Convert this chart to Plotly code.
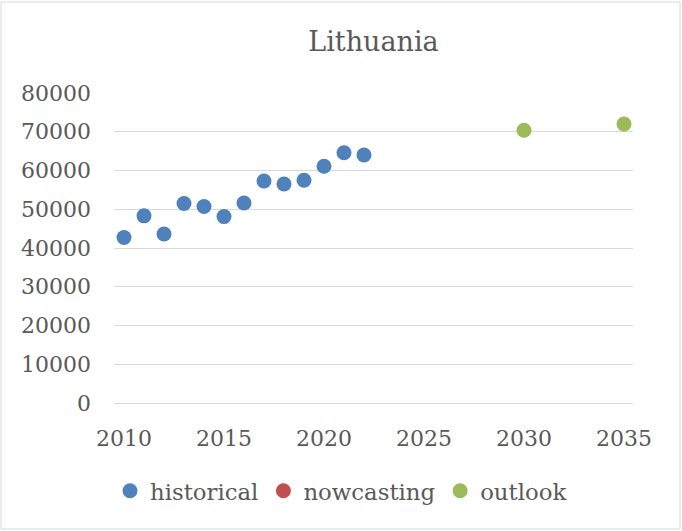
import plotly.graph_objects as go

# Data
hist_years = [2010, 2011, 2012, 2013, 2014, 2015, 2016, 2017, 2018, 2019, 2020, 2021, 2022]
hist_values = [42700, 48300, 43600, 51500, 50700, 48100, 51600, 57300, 56500, 57500, 61100, 64600, 64000]
now_years = []
now_values = []
outlook_years = [2030, 2035]
outlook_values = [70400, 72000]
x_ticks = [2010, 2015, 2020, 2025, 2030, 2035]
y_ticks = [0, 10000, 20000, 30000, 40000, 50000, 60000, 70000, 80000]

FONT = "DejaVu Serif"
TXT = "#595959"

fig = go.Figure()
fig.add_trace(go.Scatter(x=hist_years, y=hist_values, mode="markers", name="historical",
                         marker=dict(color="#4F81BD", size=15)))
fig.add_trace(go.Scatter(x=now_years if now_years else [None], y=now_values if now_values else [None],
                         mode="markers", name="nowcasting",
                         marker=dict(color="#C0504D", size=15)))
fig.add_trace(go.Scatter(x=outlook_years, y=outlook_values, mode="markers", name="outlook",
                         marker=dict(color="#9BBB59", size=15)))

L, R, T, B = 114, 49, 93, 128
W, H = 682, 531
pw = W - L - R
ph = H - T - B

def px_x(p):
    return (p - L) / pw

def px_y(p):
    return (H - B - p) / ph

fig.update_layout(
    width=W, height=H,
    margin=dict(l=L, r=R, t=T, b=B, autoexpand=False),
    paper_bgcolor="white", plot_bgcolor="white",
    font=dict(family=FONT, color=TXT, size=22),
    title=dict(text="Lithuania", x=0.5, xref="paper", xanchor="center",
               y=1 - 42 / H, yanchor="middle",
               font=dict(family=FONT, size=27, color=TXT)),
    showlegend=True,
    legend=dict(orientation="h", x=px_x(110), xanchor="left", y=px_y(491), yanchor="middle",
                font=dict(family=FONT, size=22.8, color=TXT), itemwidth=30,
                bgcolor="rgba(0,0,0,0)"),
    xaxis=dict(range=[2009.5, 2035.45], tickvals=x_ticks, showgrid=False, zeroline=False,
               showline=False, ticks="", ticklabelstandoff=20, automargin=False,
               tickformat="d",
               tickfont=dict(family=FONT, size=22, color=TXT)),
    yaxis=dict(range=[0, 80000], tickvals=y_ticks, showgrid=True, gridcolor="#D9D9D9",
               gridwidth=1, zeroline=True, zerolinecolor="#D9D9D9", zerolinewidth=1,
               showline=False, ticks="", ticklabelstandoff=22, automargin=False,
               tickformat="d",
               tickfont=dict(family=FONT, size=22, color=TXT)),
    shapes=[dict(type="rect", xref="paper", yref="paper",
                 x0=px_x(1), x1=px_x(680), y0=px_y(529), y1=px_y(2),
                 line=dict(color="#D9D9D9", width=1), fillcolor="rgba(0,0,0,0)", layer="below")],
)

fig.write_html("out.html", config={"displayModeBar": False},
               post_script="document.body.style.margin='0';document.body.style.overflow='hidden';")
